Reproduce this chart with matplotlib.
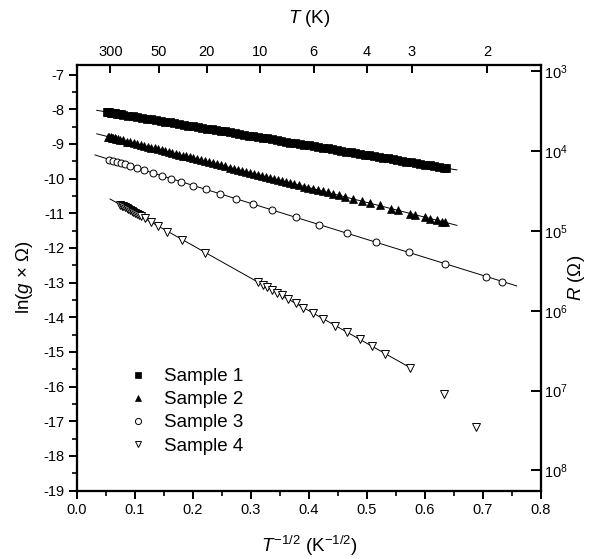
import numpy as np
import matplotlib
matplotlib.use("Agg")
import matplotlib.pyplot as plt
from matplotlib.ticker import MultipleLocator, FixedLocator

plt.rcParams['font.family'] = ['Liberation Sans', 'DejaVu Sans']
plt.rcParams['mathtext.fontset'] = 'custom'
plt.rcParams['mathtext.rm'] = 'Liberation Sans'
plt.rcParams['mathtext.it'] = 'Liberation Sans:italic'
plt.rcParams['axes.unicode_minus'] = False

# ---- data: x = T^-1/2 (K^-1/2), y = ln(g x Ohm) ----
x1 = [0.052, 0.054, 0.056, 0.058, 0.060, 0.063, 0.066, 0.069, 0.072, 0.076,
      0.080, 0.088, 0.096, 0.104, 0.112, 0.120, 0.128, 0.136, 0.144, 0.152,
      0.160, 0.168, 0.176, 0.184, 0.192, 0.200, 0.208, 0.216, 0.224, 0.232,
      0.240, 0.248, 0.256, 0.264, 0.272, 0.280, 0.288, 0.296, 0.304, 0.312,
      0.320, 0.328, 0.336, 0.344, 0.352, 0.360, 0.368, 0.376, 0.384, 0.392,
      0.400, 0.408, 0.416, 0.424, 0.432, 0.440, 0.448, 0.456, 0.464, 0.472,
      0.480, 0.488, 0.496, 0.504, 0.512, 0.520, 0.528, 0.536, 0.544, 0.552,
      0.560, 0.568, 0.576, 0.584, 0.592, 0.600, 0.608, 0.616, 0.624, 0.632,
      0.637]
y1 = [-8.07, -8.08, -8.09, -8.10, -8.10, -8.11, -8.12, -8.13, -8.14, -8.15,
      -8.16, -8.18, -8.20, -8.22, -8.25, -8.27, -8.29, -8.31, -8.34, -8.36,
      -8.38, -8.40, -8.42, -8.45, -8.47, -8.49, -8.51, -8.53, -8.56, -8.58,
      -8.60, -8.62, -8.64, -8.67, -8.69, -8.71, -8.73, -8.76, -8.78, -8.80,
      -8.82, -8.84, -8.87, -8.89, -8.91, -8.93, -8.96, -8.98, -9.00, -9.02,
      -9.04, -9.07, -9.09, -9.11, -9.13, -9.15, -9.18, -9.20, -9.22, -9.24,
      -9.27, -9.29, -9.31, -9.33, -9.35, -9.38, -9.40, -9.42, -9.44, -9.46,
      -9.49, -9.51, -9.53, -9.55, -9.58, -9.60, -9.62, -9.64, -9.66, -9.69,
      -9.70]

x2 = [0.054, 0.056, 0.058, 0.060, 0.062, 0.065, 0.068, 0.071, 0.075, 0.080,
      0.086, 0.092, 0.098, 0.104, 0.110, 0.116, 0.122, 0.128, 0.134, 0.140,
      0.146, 0.152, 0.158, 0.164, 0.170, 0.176, 0.182, 0.188, 0.194, 0.200,
      0.207, 0.214, 0.221, 0.228, 0.235, 0.242, 0.249, 0.256, 0.263, 0.270,
      0.277, 0.284, 0.291, 0.298, 0.305, 0.312, 0.319, 0.326, 0.333, 0.340,
      0.347, 0.354, 0.361, 0.368, 0.375, 0.383, 0.391, 0.399, 0.407, 0.415,
      0.424, 0.433, 0.442, 0.451, 0.462, 0.476, 0.491, 0.505, 0.522, 0.542,
      0.554, 0.574, 0.583, 0.600, 0.609, 0.620, 0.629, 0.634]
y2 = [-8.79, -8.80, -8.81, -8.82, -8.83, -8.84, -8.85, -8.87, -8.88, -8.90,
      -8.93, -8.95, -8.98, -9.01, -9.03, -9.06, -9.08, -9.11, -9.13, -9.16,
      -9.18, -9.21, -9.24, -9.26, -9.29, -9.31, -9.34, -9.36, -9.39, -9.41,
      -9.44, -9.47, -9.50, -9.53, -9.56, -9.59, -9.62, -9.65, -9.68, -9.71,
      -9.74, -9.77, -9.80, -9.83, -9.86, -9.89, -9.92, -9.95, -9.98, -10.01,
      -10.04, -10.07, -10.10, -10.13, -10.16, -10.19, -10.23, -10.26, -10.29, -10.33,
      -10.37, -10.40, -10.44, -10.48, -10.53, -10.58, -10.64, -10.70, -10.77, -10.87,
      -10.92, -11.01, -11.05, -11.12, -11.16, -11.20, -11.24, -11.26]

x3 = [0.0557, 0.0626, 0.0684, 0.0753, 0.0828, 0.0914, 0.1029, 0.1155, 0.1316,
      0.146, 0.162, 0.179, 0.200, 0.222, 0.247, 0.274, 0.304, 0.337, 0.377,
      0.418, 0.465, 0.516, 0.572, 0.635, 0.705, 0.733]
y3 = [-9.45, -9.48, -9.51, -9.55, -9.59, -9.63, -9.69, -9.76, -9.84,
      -9.92, -10.00, -10.09, -10.20, -10.31, -10.44, -10.58, -10.74, -10.91, -11.11,
      -11.33, -11.57, -11.83, -12.12, -12.45, -12.83, -12.98]

x4 = [0.0741, 0.0775, 0.0798, 0.0825, 0.0856, 0.0885, 0.0914, 0.0945, 0.0971,
      0.100, 0.103, 0.1065, 0.1103, 0.117, 0.127, 0.139, 0.1557, 0.1805, 0.2207,
      0.3126, 0.3201, 0.327, 0.3356, 0.3443, 0.353, 0.3644, 0.3776, 0.3902,
      0.4064, 0.4247, 0.445, 0.466, 0.488, 0.509, 0.531, 0.575]
y4 = [-10.75, -10.78, -10.80, -10.83, -10.86, -10.88, -10.91, -10.94, -10.96,
      -10.99, -11.02, -11.05, -11.09, -11.15, -11.25, -11.37, -11.53, -11.76, -12.14,
      -12.99, -13.06, -13.12, -13.21, -13.29, -13.37, -13.48, -13.60, -13.72,
      -13.87, -14.04, -14.24, -14.43, -14.64, -14.84, -15.05, -15.47]
# points of sample 4 left out of the fit
x4_out = [0.632, 0.688]
y4_out = [-16.21, -17.16]

# x-span of each fitted line
fit_span = {
    "Sample 1": (0.034, 0.655),
    "Sample 2": (0.034, 0.655),
    "Sample 3": (0.031, 0.758),
    "Sample 4": (0.057, 0.576),
}

T_ticks = [300, 50, 20, 10, 6, 4, 3, 2]       # top axis, K
R_exponents = [3, 4, 5, 6, 7, 8]               # right axis, R = 10^n Ohm

# ---- figure ----
fig = plt.figure(figsize=(5.89, 5.59), dpi=100)
ax = fig.add_axes([0.1307, 0.1225, 0.7878, 0.7620])

series = [
    ("Sample 1", x1, y1, dict(marker="s", ms=5.4, mfc="black", mec="black", mew=0.5)),
    ("Sample 2", x2, y2, dict(marker="^", ms=6.0, mfc="black", mec="black", mew=0.5)),
    ("Sample 3", x3, y3, dict(marker="o", ms=5.0, mfc="white", mec="black", mew=0.7)),
    ("Sample 4", x4, y4, dict(marker="v", ms=5.5, mfc="white", mec="black", mew=0.7)),
]
legend_ms = [4.0, 4.6, 4.4, 4.8]

handles = []
for (name, xs, ys, style), lms in zip(series, legend_ms):
    xs = np.asarray(xs)
    ys = np.asarray(ys)
    k, b = np.polyfit(xs, ys, 1)
    xf = np.array(fit_span[name])
    ax.plot(xf, k * xf + b, color="black", lw=0.7, zorder=2)
    ax.plot(xs, ys, ls="none", zorder=3, **style)
    hstyle = dict(style)
    hstyle["ms"] = lms
    h, = ax.plot([], [], ls="none", label=name, **hstyle)
    handles.append(h)

ax.plot(x4_out, y4_out, ls="none", zorder=3, **series[3][3])

ax.set_xlim(0.0, 0.8)
ax.set_ylim(-19, -6.71)
ax.xaxis.set_major_locator(MultipleLocator(0.1))
ax.xaxis.set_minor_locator(MultipleLocator(0.05))
ax.yaxis.set_major_locator(MultipleLocator(1))
ax.yaxis.set_minor_locator(MultipleLocator(0.5))
ax.xaxis.set_major_formatter(matplotlib.ticker.FormatStrFormatter("%.1f"))
ax.yaxis.set_major_formatter(matplotlib.ticker.FormatStrFormatter("%d"))
ax.tick_params(axis="both", which="major", direction="out", length=6, width=1.4,
               labelsize=10.5, pad=3)
ax.tick_params(axis="both", which="minor", direction="out", length=3.5, width=1.2)
for sp in ax.spines.values():
    sp.set_linewidth(1.5)

ax.set_xlabel(r"$T^{-1/2}$ (K$^{-1/2}$)", fontsize=13.5, labelpad=12)
ax.set_ylabel(r"ln($g$ × Ω)", fontsize=13.5, labelpad=6)

# top axis: temperature
ax_top = ax.twiny()
ax_top.set_xlim(ax.get_xlim())
ax_top.xaxis.set_major_locator(FixedLocator(np.asarray(T_ticks, float) ** -0.5))
ax_top.set_xticklabels([str(t) for t in T_ticks])
ax_top.xaxis.set_minor_locator(matplotlib.ticker.NullLocator())
ax_top.tick_params(axis="x", direction="in", length=6, width=1.4, labelsize=10.5, pad=4)
ax_top.set_xlabel(r"$T$ (K)", fontsize=13.5, labelpad=16)

# right axis: resistance, R = 1/g
ax_r = ax.twinx()
ax_r.set_ylim(ax.get_ylim())
ax_r.yaxis.set_major_locator(
    FixedLocator(-np.log(10.0 ** np.asarray(R_exponents, float))))
ax_r.set_yticklabels([rf"$10^{{{n}}}$" for n in R_exponents])
ax_r.yaxis.set_minor_locator(matplotlib.ticker.NullLocator())
ax_r.tick_params(axis="y", direction="in", length=7, width=1.4, labelsize=10.5, pad=2)
ax_r.set_ylabel(r"$R$ (Ω)", fontsize=13.5, labelpad=-1)
for a in (ax_top, ax_r):
    for sp in a.spines.values():
        sp.set_linewidth(1.5)

leg = ax.legend(handles=handles, loc="upper left", bbox_to_anchor=(0.095, 0.305),
                frameon=False, fontsize=13.5, handlelength=1.0, handletextpad=0.9,
                labelspacing=0.32, borderaxespad=0.0)

fig.savefig("out.png", dpi=100)
